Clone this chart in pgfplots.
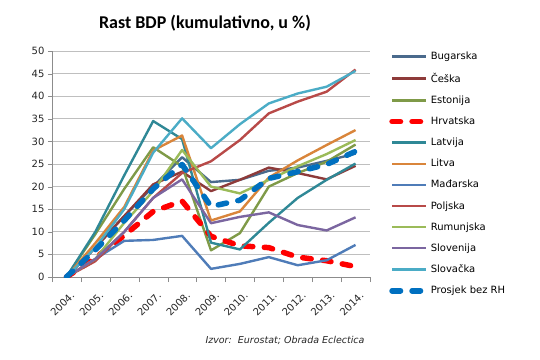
\documentclass[border=0pt]{standalone}
\usepackage{pgfplots}
\usepackage{pgfplotstable}
\pgfplotsset{compat=1.18}
\usepackage{fontspec}
\setmainfont{DejaVu Sans}
\newfontfamily\titlefont{Carlito}
\definecolor{cBug}{HTML}{4A6A8C}
\definecolor{cCes}{HTML}{8E3B3A}
\definecolor{cEst}{HTML}{7F9A48}
\definecolor{cHrv}{HTML}{FF0000}
\definecolor{cLat}{HTML}{2F8896}
\definecolor{cLit}{HTML}{D9853B}
\definecolor{cMad}{HTML}{4F7CB8}
\definecolor{cPol}{HTML}{B84A48}
\definecolor{cRum}{HTML}{9BBB59}
\definecolor{cSlo}{HTML}{7B66A0}
\definecolor{cSlk}{HTML}{4BACC6}
\definecolor{cPro}{HTML}{0070C0}
\pgfplotstableread{
x Bug Ces Est Hrv Lat Lit Mad Pol Rum Slo Slk Pro
0 0 0 0 0 0 0 0 0 0 0 0 0
1 6.5 6.5 9.5 4.2 10 7.5 4 3.5 4 4 6.5 6
2 13.5 13.5 19.5 9.2 22.5 15.5 8 10 12 10 15 12.5
3 20 20.5 28.7 14.5 34.5 28 8.2 17.5 19 17.5 27.5 19.5
4 26.5 23.3 24.5 16.8 30.5 31.3 9.1 23 28.1 21.6 35.1 24.9
5 21 19 5.9 9 7.6 12.5 1.8 25.6 20 11.9 28.5 15.6
6 21.5 21.5 9.7 6.9 6.1 14.5 2.9 30.3 18.5 13.3 33.8 17
7 23.5 24.2 20 6.5 12 22 4.4 36.2 21.5 14.3 38.4 21.8
8 24.2 23 23 4.4 17.5 25.8 2.6 38.8 24.5 11.5 40.6 23.3
9 25.7 21.6 25.5 3.6 21.5 29.2 3.7 41 27.2 10.3 42.1 24.9
10 27.3 24.6 29.3 2.3 25.1 32.5 7.1 45.9 30.3 13.2 45.6 27.8
}\data
\begin{document}
\begin{tikzpicture}[x=1pt,y=1pt]
\path[use as bounding box] (0,0) rectangle (540,359);
\node[font=\titlefont\bfseries\fontsize{18}{20}\selectfont] at (205,336) {Rast BDP (kumulativno, u \%)};
\node[font=\itshape\fontsize{9.5}{11}\selectfont, text=black!85] at (285,19) {Izvor:\ \ Eurostat;\ Obrada Eclectica};
\begin{axis}[
  at={(52pt,82pt)}, anchor=south west,
  width=318pt, height=226pt, scale only axis,
  xmin=-0.5, xmax=10.5, ymin=0, ymax=50,
  axis x line=bottom, axis y line=left,
  axis line style={draw=black!45, -},
  xtick={0,...,10},
  xticklabels={2004.,2005.,2006.,2007.,2008.,2009.,2010.,2011.,2012.,2013.,2014.},
  major x tick style={draw=none},
  minor xtick={-0.5,0.5,...,10.5},
  minor x tick style={draw=black!45},
  minor tick length=5pt,
  ytick={0,5,...,50},
  major tick length=4pt,
  tick align=outside,
  y tick style={draw=black!45},
  ymajorgrids, grid style={draw=black!25, line width=0.8pt},
  /pgf/number format/assume math mode=true,
  yticklabel style={font=\fontsize{10}{12}\selectfont, text=black!85},
  xticklabel style={font=\fontsize{10}{12}\selectfont, text=black!85, rotate=45, anchor=north east, inner sep=0.5pt, yshift=-9pt, xshift=-4pt},
  legend style={at={(1.06,1.005)}, anchor=north west, draw=none, fill=none,
    font=\fontsize{10}{12}\selectfont, row sep=8.0pt, cells={anchor=west}, inner sep=0pt},
  legend image code/.code={\draw[#1] (0pt,0pt) -- (34pt,0pt);},
  every axis plot/.append style={line width=2.4pt, line join=round},
]
\addplot[cBug] table[x=x,y=Bug]{\data};
\addlegendentry{Bugarska}
\addplot[cCes] table[x=x,y=Ces]{\data};
\addlegendentry{Češka}
\addplot[cEst] table[x=x,y=Est]{\data};
\addlegendentry{Estonija}
\addplot[cHrv, line width=5.5pt, line cap=round, dash pattern=on 8.5pt off 11.5pt] table[x=x,y=Hrv]{\data};
\addlegendentry{Hrvatska}
\addplot[cLat] table[x=x,y=Lat]{\data};
\addlegendentry{Latvija}
\addplot[cLit] table[x=x,y=Lit]{\data};
\addlegendentry{Litva}
\addplot[cMad] table[x=x,y=Mad]{\data};
\addlegendentry{Mađarska}
\addplot[cPol] table[x=x,y=Pol]{\data};
\addlegendentry{Poljska}
\addplot[cRum] table[x=x,y=Rum]{\data};
\addlegendentry{Rumunjska}
\addplot[cSlo] table[x=x,y=Slo]{\data};
\addlegendentry{Slovenija}
\addplot[cSlk] table[x=x,y=Slk]{\data};
\addlegendentry{Slovačka}
\addplot[cPro, line width=5.5pt, line cap=round, dash pattern=on 8.5pt off 11.5pt] table[x=x,y=Pro]{\data};
\addlegendentry{Prosjek bez RH}
\end{axis}
\end{tikzpicture}
\end{document}
